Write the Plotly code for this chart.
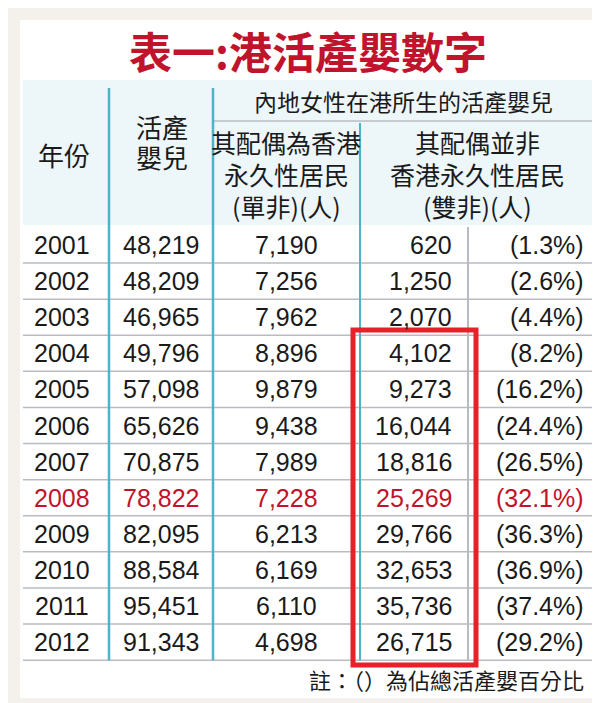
import plotly.graph_objects as go

years = ["2001", "2002", "2003", "2004", "2005", "2006", "2007", "2008", "2009", "2010", "2011", "2012"]
live_births = ["48,219", "48,209", "46,965", "49,796", "57,098", "65,626", "70,875", "78,822", "82,095", "88,584", "95,451", "91,343"]
single_non = ["7,190", "7,256", "7,962", "8,896", "9,879", "9,438", "7,989", "7,228", "6,213", "6,169", "6,110", "4,698"]
double_non = ["620", "1,250", "2,070", "4,102", "9,273", "16,044", "18,816", "25,269", "29,766", "32,653", "35,736", "26,715"]
double_pct = ["(1.3%)", "(2.6%)", "(4.4%)", "(8.2%)", "(16.2%)", "(24.4%)", "(26.5%)", "(32.1%)", "(36.3%)", "(36.9%)", "(37.4%)", "(29.2%)"]
highlight_year = "2008"

FONT = "Liberation Sans, Noto Sans CJK TC, sans-serif"
CJK = "Noto Sans CJK TC, sans-serif"
TEAL = "#4fb3c8"
GREY = "#b8bcc0"

fig = go.Figure()
shapes = []
ann = []

# card and header band
shapes.append(dict(type="rect", x0=12, x1=590, y0=12, y1=690, fillcolor="white", line_width=0, layer="below"))
shapes.append(dict(type="rect", x0=15, x1=586, y0=72, y1=217, fillcolor="#edf6f9", line_width=0, layer="below"))

row0, step = 237, 36.1
n = len(years)
bottom = row0 + step * (n - 0.5)

for i in range(n):
    y = row0 + step * (i + 0.5)
    shapes.append(dict(type="line", x0=15, x1=586, y0=y, y1=y, line=dict(color=GREY, width=1.5)))
shapes.append(dict(type="line", x0=205, x1=586, y0=113, y1=113, line=dict(color=GREY, width=1.5)))
for x in (101, 205):
    shapes.append(dict(type="line", x0=x, x1=x, y0=80, y1=bottom, line=dict(color=TEAL, width=2.5)))
shapes.append(dict(type="line", x0=352, x1=352, y0=115, y1=bottom, line=dict(color=TEAL, width=2)))
shapes.append(dict(type="line", x0=460, x1=460, y0=219, y1=bottom, line=dict(color=GREY, width=2)))
shapes.append(dict(type="rect", x0=345, x1=468, y0=322, y1=657, line=dict(color="#e8202a", width=5)))

def txt(x, y, s, size, color="#1a1a1a", xanchor="center", family=FONT):
    ann.append(dict(x=x, y=y, text=s, showarrow=False, xanchor=xanchor, yanchor="middle",
                    font=dict(family=family, size=size, color=color)))

txt(300, 42, "<b>表一:港活產嬰數字</b>", 43, color="#c0142c", family=CJK)

# headers, one annotation per line
txt(56, 146, "年份", 26, family=CJK)
txt(154, 118, "活產", 26, family=CJK)
txt(154, 148, "嬰兒", 26, family=CJK)
txt(395, 93, "內地女性在港所生的活產嬰兒", 23, family=CJK)
for y, s in zip((134, 166, 198), ("其配偶為香港", "永久性居民", "(單非)(人)")):
    txt(278, y, s, 25, family=CJK)
for y, s in zip((134, 166, 198), ("其配偶並非", "香港永久性居民", "(雙非)(人)")):
    txt(469, y, s, 25, family=CJK)

for i in range(n):
    y = row0 + step * i
    c = "#c0142c" if years[i] == highlight_year else "#1a1a1a"
    txt(54, y, years[i], 25, c)
    txt(153, y, live_births[i], 25, c)
    txt(278, y, single_non[i], 25, c)
    txt(446, y, double_non[i], 25, c, xanchor="right")
    txt(578, y, double_pct[i], 25, c, xanchor="right")

txt(578, 671, "註：（）為佔總活產嬰百分比", 22, family=CJK, xanchor="right")

fig.update_layout(
    width=600, height=703, margin=dict(l=0, r=0, t=0, b=0),
    paper_bgcolor="#f4f1ec", plot_bgcolor="#f4f1ec",
    xaxis=dict(range=[0, 600], visible=False, fixedrange=True),
    yaxis=dict(range=[703, 0], visible=False, fixedrange=True),
    shapes=shapes, annotations=ann, showlegend=False,
)
fig.write_html("out.html")
